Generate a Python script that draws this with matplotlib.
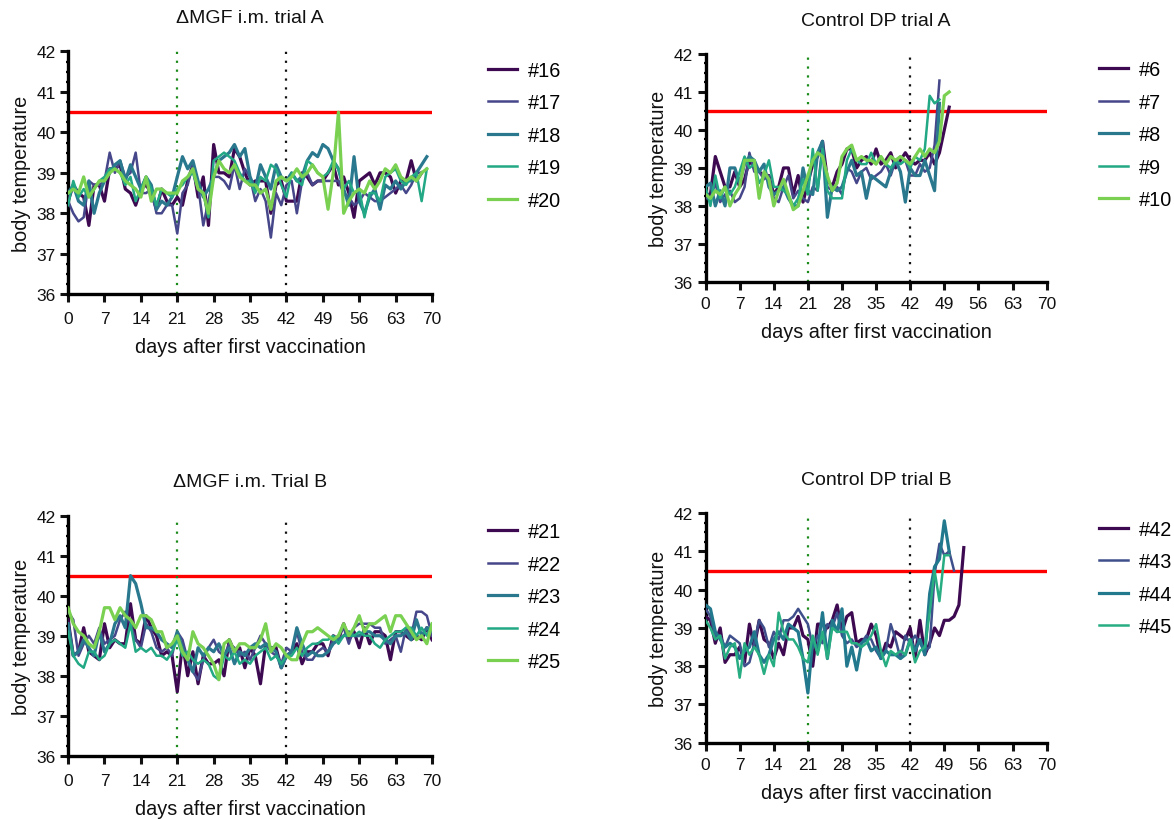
import numpy as np
import matplotlib
matplotlib.use("Agg")
import matplotlib.pyplot as plt
from matplotlib.ticker import MultipleLocator

plt.rcParams['font.family'] = ['Liberation Sans', 'DejaVu Sans']

# ---- datos: temperatura corporal diaria por animal ----
# ΔMGF i.m. trial A
mgf_a_labels = ['#16', '#17', '#18', '#19', '#20']
mgf_a_16 = [38.3, 38.7, 38.5, 38.4, 37.7, 38.7, 38.7, 38.3, 39.1, 39.1, 39.2, 38.6, 38.5, 38.2, 38.6,
            38.7, 38.5, 38.1, 38.6, 38.3, 38.2, 38.4, 38.2, 38.8, 39.2, 38.4, 38.9, 37.7, 39.7, 39.0,
            39.0, 38.9, 39.6, 39.4, 39.0, 38.7, 38.8, 38.8, 38.8, 38.0, 38.7, 38.8, 38.3, 38.3, 38.3,
            39.0, 38.9, 38.7, 38.8, 38.8, 39.0, 39.2, 38.7, 38.9, 38.5, 37.9, 38.8, 38.9, 39.0, 38.7,
            39.0, 39.0, 38.9, 38.5, 38.8, 38.8, 39.3, 38.8, 39.0]
mgf_a_17 = [38.3, 38.0, 37.8, 37.9, 38.8, 38.7, 38.7, 38.8, 39.5, 39.0, 39.3, 38.9, 39.0, 39.5, 38.5,
            38.5, 38.6, 38.0, 38.0, 38.2, 38.2, 37.5, 38.5, 38.7, 39.2, 38.7, 37.7, 38.3, 38.9, 38.9,
            38.8, 38.6, 39.2, 38.6, 39.1, 38.9, 38.3, 38.6, 38.3, 37.4, 38.5, 38.2, 38.7, 38.8, 38.0,
            38.8, 39.0, 38.7, 38.8, 38.8, 38.8, 38.8, 38.8, 38.5, 38.4, 38.2, 38.3, 38.5, 38.4, 38.3,
            38.3, 38.4, 38.5, 38.6, 38.7, 38.5, 38.7, 39.0, 39.0]
mgf_a_18 = [38.5, 38.7, 38.3, 38.2, 38.8, 38.0, 38.5, 38.8, 39.0, 39.2, 39.3, 38.8, 39.2, 38.9, 38.6,
            38.9, 38.7, 38.1, 38.3, 38.2, 38.4, 38.9, 39.4, 39.1, 39.3, 38.8, 38.4, 38.6, 38.9, 39.3,
            39.4, 39.5, 39.7, 39.4, 39.6, 38.9, 38.6, 39.2, 38.9, 38.6, 39.2, 38.9, 38.8, 39.0, 38.8,
            38.9, 39.3, 39.5, 39.4, 39.7, 39.6, 39.3, 39.1, 38.6, 38.2, 39.4, 38.3, 38.0, 38.4, 38.6,
            38.1, 38.7, 38.6, 38.8, 38.6, 38.8, 38.8, 39.0, 39.2, 39.4]
mgf_a_19 = [38.2, 38.8, 38.4, 38.6, 38.4, 38.6, 38.8, 38.9, 39.1, 39.1, 39.0, 38.7, 38.9, 38.3, 38.6,
            38.9, 38.6, 38.2, 38.6, 38.5, 38.4, 38.6, 38.7, 38.9, 39.0, 38.6, 38.5, 37.9, 39.3, 39.4,
            39.5, 39.4, 39.3, 39.0, 38.8, 38.8, 38.5, 38.9, 38.8, 39.2, 39.1, 38.7, 38.4, 39.0, 38.8,
            38.7, 39.3, 39.2, 39.0, 38.9, 39.0, 39.3, 39.1, 38.6, 38.8, 38.5, 38.6, 37.9, 38.5, 38.5,
            38.3, 38.9, 39.0, 39.1, 38.8, 38.7, 38.9, 39.0, 38.3, 39.1]
mgf_a_20 = [38.5, 38.6, 38.5, 38.9, 38.4, 38.6, 38.8, 38.8, 39.0, 39.1, 39.0, 38.8, 38.7, 38.6, 38.4,
            38.9, 38.3, 38.6, 38.6, 38.5, 38.5, 38.5, 38.8, 38.9, 39.1, 38.6, 38.5, 38.0, 38.9, 39.3,
            39.1, 39.0, 39.2, 38.9, 38.8, 38.7, 38.7, 38.5, 38.6, 38.1, 38.8, 38.9, 38.8, 38.9, 39.1,
            38.9, 39.0, 39.2, 39.0, 38.9, 38.1, 39.0, 40.5, 38.0, 38.3, 38.5, 38.6, 38.5, 38.8, 38.6,
            38.8, 39.1, 39.0, 39.2, 38.9, 38.8, 38.9, 38.8, 39.0, 39.1]

# Control DP trial A
dp_a_labels = ['#6', '#7', '#8', '#9', '#10']
dp_a_6 = [38.3, 38.3, 39.3, 38.9, 38.5, 38.5, 38.9, 38.5, 38.7, 39.2, 39.0, 38.9, 38.8, 38.8, 38.3,
          38.5, 39.0, 39.0, 38.3, 38.8, 38.1, 38.6, 39.1, 39.3, 39.7, 38.7, 38.5, 38.9, 39.1, 39.5,
          39.5, 39.0, 39.2, 39.3, 39.1, 39.5, 39.1, 39.2, 39.4, 39.0, 39.2, 39.4, 39.2, 39.1, 39.2,
          39.2, 39.4, 39.1, 39.4, 40.0, 40.6]
dp_a_7 = [38.2, 38.2, 38.6, 38.1, 38.3, 38.4, 38.1, 38.2, 38.5, 39.4, 38.9, 38.9, 38.7, 38.8, 38.2,
          38.1, 38.5, 38.8, 38.2, 38.4, 38.2, 38.1, 38.5, 38.4, 39.6, 38.5, 38.4, 38.5, 38.3, 39.0,
          38.9, 38.6, 38.9, 39.0, 38.7, 38.8, 38.9, 39.1, 38.8, 39.2, 39.3, 39.2, 38.8, 38.8, 39.1,
          38.9, 39.0, 39.6, 41.3]
dp_a_8 = [38.5, 38.6, 38.0, 38.4, 38.0, 39.0, 39.0, 38.6, 39.1, 39.3, 39.2, 38.9, 39.1, 38.5, 38.3,
          38.4, 38.5, 38.2, 38.0, 38.0, 39.0, 38.4, 38.3, 39.4, 39.7, 37.7, 38.5, 38.4, 38.5, 38.9,
          39.2, 38.8, 38.9, 38.2, 38.8, 38.7, 38.6, 38.5, 38.9, 39.2, 38.9, 38.1, 39.0, 38.8, 38.8,
          39.2, 38.8, 38.4, 40.7]
dp_a_9 = [38.5, 38.0, 38.8, 38.2, 38.5, 38.3, 38.5, 38.9, 39.3, 39.0, 39.1, 38.6, 38.8, 39.2, 38.5,
          38.5, 38.4, 38.3, 38.0, 38.2, 38.7, 38.3, 39.5, 38.4, 39.5, 38.4, 38.2, 38.2, 38.2, 39.2,
          39.5, 39.2, 39.1, 39.1, 39.4, 39.1, 39.3, 39.1, 39.0, 39.2, 39.1, 39.2, 39.0, 39.3, 39.2,
          39.5, 40.9, 40.7, 40.8]
dp_a_10 = [38.3, 38.2, 38.4, 38.3, 38.5, 38.0, 38.3, 38.5, 39.2, 39.2, 39.2, 38.2, 38.9, 38.7, 38.0,
           38.4, 38.7, 38.3, 37.9, 38.0, 38.4, 38.8, 39.2, 39.4, 39.3, 38.8, 38.4, 38.6, 39.3, 39.5,
           39.6, 39.2, 39.3, 39.2, 39.2, 39.1, 39.3, 39.1, 39.3, 39.2, 39.3, 39.2, 39.1, 39.3, 39.5,
           39.3, 39.5, 39.4, 39.7, 40.9, 41.0]

# ΔMGF i.m. Trial B
mgf_b_labels = ['#21', '#22', '#23', '#24', '#25']
mgf_b_21 = [39.4, 38.5, 38.6, 39.2, 38.6, 38.5, 38.4, 39.3, 38.7, 38.9, 38.8, 38.8, 39.8, 38.9, 38.8,
            39.5, 39.2, 39.0, 38.5, 38.6, 38.5, 37.6, 38.8, 38.0, 38.6, 37.8, 38.5, 38.3, 38.3, 38.4,
            38.0, 38.9, 38.6, 38.7, 38.2, 38.7, 38.5, 37.8, 38.8, 38.7, 38.7, 38.2, 38.5, 38.6, 38.8,
            38.3, 38.6, 38.6, 38.8, 38.8, 38.5, 39.0, 38.9, 39.3, 38.9, 39.1, 38.7, 39.2, 38.8, 39.1,
            39.1, 39.0, 38.4, 39.1, 39.1, 39.0, 38.9, 39.0, 38.9, 39.2, 38.9]
mgf_b_22 = [39.6, 39.4, 38.5, 38.8, 39.0, 38.8, 39.2, 38.8, 38.9, 39.0, 39.4, 39.6, 39.3, 38.9, 38.7,
            39.3, 39.1, 38.7, 38.6, 38.7, 38.5, 39.1, 38.9, 38.4, 38.1, 37.9, 38.4, 38.7, 38.9, 38.6,
            38.5, 38.8, 38.7, 38.5, 38.6, 38.4, 38.7, 39.0, 38.8, 38.6, 38.5, 38.3, 38.7, 38.6, 39.1,
            38.6, 38.4, 38.4, 38.6, 38.7, 38.6, 38.9, 39.0, 39.2, 38.8, 39.2, 39.3, 39.3, 39.3, 39.2,
            39.2, 38.8, 38.9, 39.0, 38.6, 39.2, 39.0, 39.6, 39.6, 39.5, 39.0]
mgf_b_23 = [39.3, 38.5, 38.6, 38.9, 38.7, 38.5, 39.1, 38.6, 38.8, 39.3, 39.5, 39.2, 40.5, 40.3, 39.8,
            39.2, 39.2, 39.1, 38.9, 38.8, 38.7, 39.1, 38.7, 38.4, 38.1, 38.7, 38.5, 38.7, 38.6, 38.8,
            38.5, 38.7, 38.3, 38.6, 38.5, 38.7, 38.8, 38.7, 38.8, 38.7, 38.6, 38.2, 38.5, 38.6, 39.2,
            38.8, 38.5, 38.6, 38.5, 38.5, 38.6, 38.8, 38.9, 39.0, 39.1, 39.0, 39.0, 39.1, 39.1, 39.0,
            39.0, 38.9, 38.8, 39.0, 39.0, 39.1, 38.9, 39.4, 39.0, 39.2, 39.1]
mgf_b_24 = [39.1, 38.5, 38.3, 38.2, 38.6, 38.6, 38.4, 38.5, 38.8, 38.9, 38.8, 38.7, 39.3, 38.6, 38.7,
            38.6, 38.7, 38.5, 38.5, 38.4, 38.6, 38.9, 38.5, 38.6, 38.4, 38.3, 38.4, 38.3, 38.0, 37.9,
            38.5, 38.4, 38.6, 38.3, 38.4, 38.3, 38.5, 38.6, 38.7, 38.4, 38.5, 38.3, 38.5, 38.5, 38.7,
            38.5, 38.7, 38.8, 38.8, 38.9, 38.9, 39.0, 38.8, 39.0, 39.0, 39.0, 39.1, 39.0, 39.0, 38.8,
            38.7, 38.9, 39.0, 39.1, 39.1, 39.2, 39.2, 39.0, 39.2, 39.0, 39.3]
mgf_b_25 = [39.7, 39.3, 39.1, 39.0, 38.8, 38.7, 39.1, 39.7, 39.7, 39.4, 39.7, 39.5, 39.4, 39.2, 39.5,
            39.5, 39.4, 39.1, 39.1, 38.7, 38.8, 39.0, 38.6, 38.4, 39.1, 38.8, 38.7, 38.5, 38.3, 37.9,
            38.8, 38.9, 38.6, 38.8, 38.8, 38.7, 38.7, 38.9, 39.3, 38.6, 38.8, 38.7, 38.5, 38.4, 38.4,
            38.8, 39.1, 39.1, 39.2, 39.1, 39.0, 38.9, 39.0, 39.3, 39.0, 39.2, 39.5, 39.1, 39.3, 39.3,
            39.4, 39.5, 39.1, 39.5, 39.5, 39.3, 39.1, 38.9, 39.0, 38.8, 39.3]

# Control DP trial B
dp_b_labels = ['#42', '#43', '#44', '#45']
dp_b_42 = [39.3, 39.2, 38.6, 39.0, 38.1, 38.3, 38.3, 38.5, 38.1, 39.1, 38.5, 39.2, 38.7, 38.6, 38.2,
           38.6, 38.3, 39.0, 39.0, 39.3, 38.8, 38.7, 38.0, 39.1, 39.1, 39.0, 39.2, 39.6, 38.9, 39.3,
           39.4, 38.6, 38.7, 38.7, 39.1, 38.8, 38.2, 38.6, 38.5, 38.9, 38.8, 38.7, 39.0, 38.2, 39.2,
           38.3, 38.6, 39.0, 38.8, 39.2, 39.2, 39.3, 39.6, 41.1]
dp_b_43 = [39.5, 39.3, 38.8, 38.8, 38.5, 38.8, 38.7, 38.6, 38.0, 38.1, 38.6, 39.2, 39.0, 38.5, 38.9,
           38.7, 39.2, 39.2, 39.3, 39.5, 39.3, 39.1, 38.5, 38.8, 38.6, 39.1, 39.0, 39.4, 38.8, 38.6,
           38.7, 38.5, 38.6, 38.8, 38.7, 38.4, 38.2, 38.4, 39.1, 38.7, 38.2, 38.8, 38.6, 38.8, 38.6,
           38.4, 38.5, 40.4, 41.2, 40.9, 41.0, 40.5]
dp_b_44 = [39.6, 39.5, 38.9, 38.7, 38.5, 38.6, 38.5, 38.2, 38.4, 38.5, 38.9, 38.3, 38.1, 38.3, 38.7,
           38.9, 38.7, 39.1, 39.0, 38.9, 38.2, 37.3, 38.7, 38.4, 39.4, 38.2, 39.2, 38.9, 39.5, 38.0,
           38.5, 37.9, 38.6, 38.7, 38.4, 38.5, 38.2, 38.4, 38.3, 38.3, 38.2, 38.3, 38.7, 38.4, 38.7,
           38.3, 39.9, 40.6, 40.8, 41.8, 41.0]
dp_b_45 = [39.2, 39.0, 38.7, 38.8, 38.2, 38.5, 38.6, 37.7, 38.6, 38.3, 38.5, 38.3, 37.8, 38.3, 38.0,
           39.4, 38.9, 38.7, 38.7, 38.5, 38.2, 38.1, 38.8, 38.3, 38.9, 38.2, 39.0, 38.9, 38.9, 38.9,
           38.6, 38.6, 38.5, 38.6, 38.8, 39.1, 38.4, 38.0, 38.4, 38.3, 38.4, 38.3, 38.7, 38.1, 38.4,
           38.5, 39.4, 40.5, 39.7, 40.9, 40.9]

colores5 = ['#3d0a52', '#46468a', '#2a788e', '#22a884', '#7ad151']
colores4 = ['#3d0a52', '#3f4f8b', '#22798e', '#27ad81']


def dibujar_panel(ax, titulo, series, etiquetas, colores, leg_y, xpad):
    # umbral de fiebre y fechas de vacunacion
    ax.axhline(40.5, color='#ff0000', lw=2.4, zorder=1)
    ax.axvline(21, color='#1a8a1a', lw=1.6, ls=(0, (1, 3)), zorder=1)
    ax.axvline(42, color='#111111', lw=1.6, ls=(0, (1, 3)), zorder=1)
    for i, (vals, lab) in enumerate(zip(series, etiquetas)):
        lw = 2.3 if i % 2 == 0 else 1.8
        ax.plot(np.arange(len(vals)), vals, color=colores[i], lw=lw, label=lab, zorder=3)

    ax.set_xlim(0, 70)
    ax.set_ylim(36, 42)
    ax.set_xticks(np.arange(0, 71, 7))
    ax.set_yticks(np.arange(36, 43, 1))
    ax.yaxis.set_minor_locator(MultipleLocator(0.25))
    for s in ['top', 'right']:
        ax.spines[s].set_visible(False)
    for s in ['left', 'bottom']:
        ax.spines[s].set_linewidth(2.4)
    ax.tick_params(which='major', length=6, width=2.2, labelsize=12.5, colors='#111111', pad=3)
    ax.tick_params(axis='x', which='major', pad=xpad)
    ax.tick_params(axis='y', which='minor', length=3, width=1.6, direction='inout')
    ax.set_title(titulo, fontsize=14, pad=21, color='#111111')
    ax.set_xlabel('days after first vaccination', fontsize=14.3, color='#111111', labelpad=8)
    ax.set_ylabel('body temperature', fontsize=14.3, color='#111111', labelpad=4)
    ax.legend(loc='upper left', bbox_to_anchor=(1.155, leg_y), frameon=False, fontsize=14.3,
              borderpad=0, borderaxespad=0, handlelength=1.45, handletextpad=0.55,
              labelspacing=0.68)


fig = plt.figure(figsize=(11.74, 8.2), dpi=100)
ax1 = fig.add_axes([0.058, 0.640, 0.310, 0.296])
ax2 = fig.add_axes([0.601, 0.655, 0.2905, 0.278])
ax3 = fig.add_axes([0.058, 0.077, 0.310, 0.293])
ax4 = fig.add_axes([0.601, 0.093, 0.2905, 0.280])

dibujar_panel(ax1, '\u0394MGF i.m. trial A', [mgf_a_16, mgf_a_17, mgf_a_18, mgf_a_19, mgf_a_20],
              mgf_a_labels, colores5, 0.962, 6)
dibujar_panel(ax2, 'Control DP trial A', [dp_a_6, dp_a_7, dp_a_8, dp_a_9, dp_a_10],
              dp_a_labels, colores5, 0.972, 4)
dibujar_panel(ax3, '\u0394MGF i.m. Trial B', [mgf_b_21, mgf_b_22, mgf_b_23, mgf_b_24, mgf_b_25],
              mgf_b_labels, colores5, 0.972, 6)
dibujar_panel(ax4, 'Control DP trial B', [dp_b_42, dp_b_43, dp_b_44, dp_b_45],
              dp_b_labels, colores4, 0.972, 4)

fig.savefig('out.png', dpi=100)
